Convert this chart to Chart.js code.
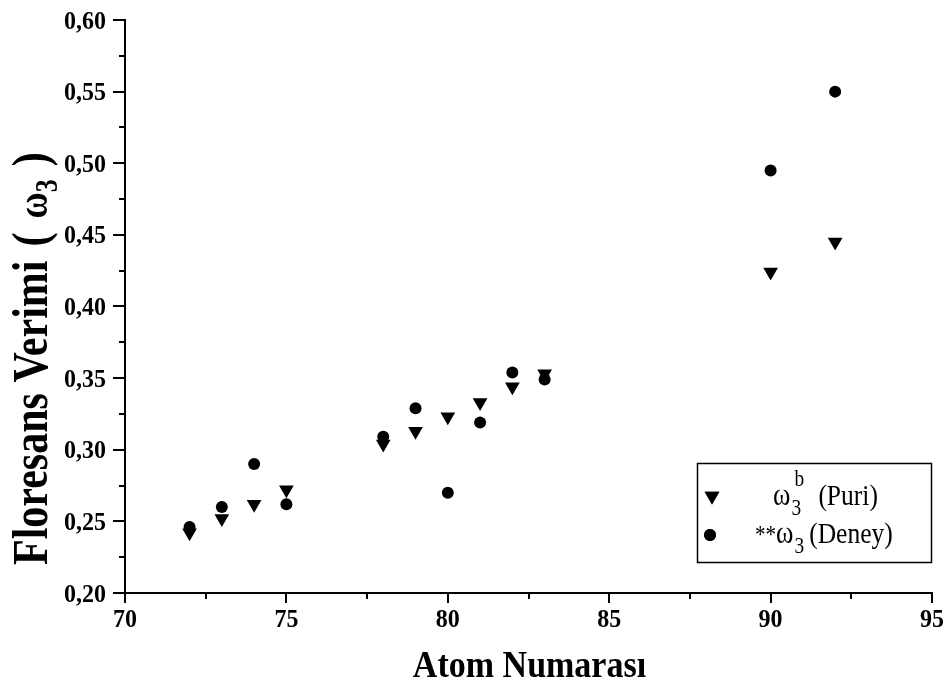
<!DOCTYPE html>
<html><head><meta charset="utf-8">
<script src="https://cdn.jsdelivr.net/npm/chart.js@4"></script>
<style>html,body{margin:0;padding:0;background:#fff}</style>
</head><body>
<canvas id="c" width="949" height="685"></canvas>
<script>
// ---- data ----
const atomNumbers = [72, 73, 74, 75, 78, 79, 80, 81, 82, 83, 90, 92];
const puriValues  = [0.242, 0.252, 0.262, 0.272, 0.304, 0.313, 0.323, 0.333, 0.344, 0.353, 0.424, 0.445];
const deneyValues = [0.246, 0.260, 0.290, 0.262, 0.309, 0.329, 0.270, 0.319, 0.354, 0.349, 0.495, 0.550];
const xTicks = [70, 75, 80, 85, 90, 95];
const xTickLabels = ['70', '75', '80', '85', '90', '95'];
const yTicks = [0.20, 0.25, 0.30, 0.35, 0.40, 0.45, 0.50, 0.55, 0.60];
const yTickLabels = ['0,20', '0,25', '0,30', '0,35', '0,40', '0,45', '0,50', '0,55', '0,60'];
const xTitle = 'Atom Numarası';
const yTitleMain = 'Floresans Verimi';
const seriesNames = ['ω3b (Puri)', '**ω3 (Deney)'];

const SERIF = "'Liberation Serif', 'Times New Roman', serif";

const decor = {
  id: 'decor',
  afterDraw(chart) {
    const ctx = chart.ctx;
    const xs = chart.scales.x, ys = chart.scales.y;
    const ca = chart.chartArea;
    ctx.save();
    ctx.strokeStyle = '#000';
    ctx.lineWidth = 2;
    // x ticks (major + minor)
    for (let v = 70; v <= 95.001; v += 2.5) {
      const px = Math.round(xs.getPixelForValue(v));
      const major = Math.abs(v - Math.round(v / 5) * 5) < 1e-6;
      ctx.beginPath();
      ctx.moveTo(px, ca.bottom);
      ctx.lineTo(px, ca.bottom + (major ? 10 : 6));
      ctx.stroke();
    }
    // y ticks
    for (let i = 0; i <= 16; i++) {
      const v = 0.2 + i * 0.025;
      const py = Math.round(ys.getPixelForValue(v));
      const major = i % 2 === 0;
      ctx.beginPath();
      ctx.moveTo(ca.left, py);
      ctx.lineTo(ca.left - (major ? 12 : 6), py);
      ctx.stroke();
    }
    ctx.fillStyle = '#000';
    // tick labels
    ctx.save();
    ctx.font = 'bold 24px ' + SERIF;
    ctx.textBaseline = 'alphabetic';
    ctx.textAlign = 'center';
    xTicks.forEach((v, i) => {
      ctx.save();
      ctx.translate(xs.getPixelForValue(v), 627);
      ctx.scale(1, 1.08);
      ctx.fillText(xTickLabels[i], 0, 0);
      ctx.restore();
    });
    ctx.textAlign = 'right';
    yTicks.forEach((v, i) => {
      ctx.save();
      ctx.translate(106, ys.getPixelForValue(v) + 8.5);
      ctx.scale(1, 1.08);
      ctx.fillText(yTickLabels[i], 0, 0);
      ctx.restore();
    });
    ctx.restore();

    // x title
    ctx.save();
    ctx.translate((ca.left + ca.right) / 2 + 1, 677);
    ctx.scale(1, 1.12);
    ctx.font = 'bold 34px ' + SERIF;
    ctx.textAlign = 'center';
    ctx.textBaseline = 'alphabetic';
    ctx.fillText(xTitle, 0, 0);
    ctx.restore();
    // y title
    ctx.save();
    ctx.translate(47, 565);
    ctx.rotate(-Math.PI / 2);
    ctx.scale(1, 1.2);
    ctx.font = 'bold 42px ' + SERIF;
    ctx.textAlign = 'left';
    ctx.textBaseline = 'alphabetic';
    let x = 0;
    ctx.fillText(yTitleMain, x, 0);
    x += ctx.measureText(yTitleMain).width + 14;
    ctx.fillText('(', x, 0);
    x += ctx.measureText('(').width + 14;
    ctx.font = 'bold 36px ' + SERIF;
    ctx.fillText('ω', x, 0);
    x += ctx.measureText('ω').width;
    ctx.font = 'bold 26px ' + SERIF;
    ctx.fillText('3', x, 8);
    x += ctx.measureText('3').width + 13;
    ctx.font = 'bold 42px ' + SERIF;
    ctx.fillText(')', x, 0);
    ctx.restore();

    // legend box
    ctx.lineWidth = 1.5;
    ctx.strokeRect(697.5, 463.5, 234, 99);
    // markers
    const ds0 = chart.data.datasets[0], ds1 = chart.data.datasets[1];
    Chart.helpers.drawPoint(ctx, {pointStyle: 'triangle', rotation: 180, radius: ds0.pointRadius, borderWidth: 0}, 712, 496);
    ctx.fill();
    Chart.helpers.drawPoint(ctx, {pointStyle: 'circle', rotation: 0, radius: ds1.pointRadius, borderWidth: 0}, 710, 535);
    ctx.fill();
    // legend texts
    const draw = (txt, px, py, size) => {
      ctx.save();
      ctx.translate(px, py);
      ctx.scale(0.88, 1.05);
      ctx.font = size + 'px ' + SERIF;
      ctx.textAlign = 'left';
      ctx.textBaseline = 'alphabetic';
      ctx.fillText(txt, 0, 0);
      const w = ctx.measureText(txt).width * 0.88;
      ctx.restore();
      return w;
    };
    // entry 1: ω3^b (Puri)
    let lx = 773;
    lx += draw('ω', lx, 505, 30);
    draw('3', lx + 1, 515, 22);
    draw('b', lx + 4, 486, 22);
    lx += 16;
    draw('(Puri)', lx + 12, 505, 29);
    // entry 2: **ω3 (Deney)
    lx = 755;
    lx += draw('**', lx, 543, 24);
    lx += draw('ω', lx, 543, 30);
    lx += draw('3', lx + 1, 553, 22) + 6;
    draw('(Deney)', lx, 543, 29);
    ctx.restore();
  }
};

new Chart(document.getElementById('c'), {
  type: 'scatter',
  data: {
    datasets: [
      {
        label: seriesNames[0],
        data: atomNumbers.map((a, i) => ({x: a, y: puriValues[i]})),
        pointStyle: 'triangle', rotation: 180, pointRadius: 8.5,
        backgroundColor: '#000', borderColor: '#000', borderWidth: 0,
        pointHoverRadius: 8.5
      },
      {
        label: seriesNames[1],
        data: atomNumbers.map((a, i) => ({x: a, y: deneyValues[i]})),
        pointStyle: 'circle', pointRadius: 6,
        backgroundColor: '#000', borderColor: '#000', borderWidth: 0,
        pointHoverRadius: 6
      }
    ]
  },
  options: {
    responsive: false,
    animation: false,
    events: [],
    layout: {padding: {left: 0, top: 20, right: 17, bottom: 0}},
    plugins: {legend: {display: false}, tooltip: {enabled: false}, title: {display: false}},
    scales: {
      x: {
        type: 'linear', min: 70, max: 95,
        afterBuildTicks: s => { s.ticks = xTicks.map(v => ({value: v})); },
        afterFit: s => { s.height = 92; },
        grid: {display: true, drawOnChartArea: false, drawTicks: false},
        border: {display: true, color: '#000', width: 2},
        ticks: {display: false}
      },
      y: {
        type: 'linear', min: 0.2, max: 0.6,
        afterBuildTicks: s => { s.ticks = yTicks.map(v => ({value: v})); },
        afterFit: s => { s.width = 125; },
        grid: {display: true, drawOnChartArea: false, drawTicks: false},
        border: {display: true, color: '#000', width: 2},
        ticks: {display: false}
      }
    }
  },
  plugins: [decor]
});
</script>
</body></html>
